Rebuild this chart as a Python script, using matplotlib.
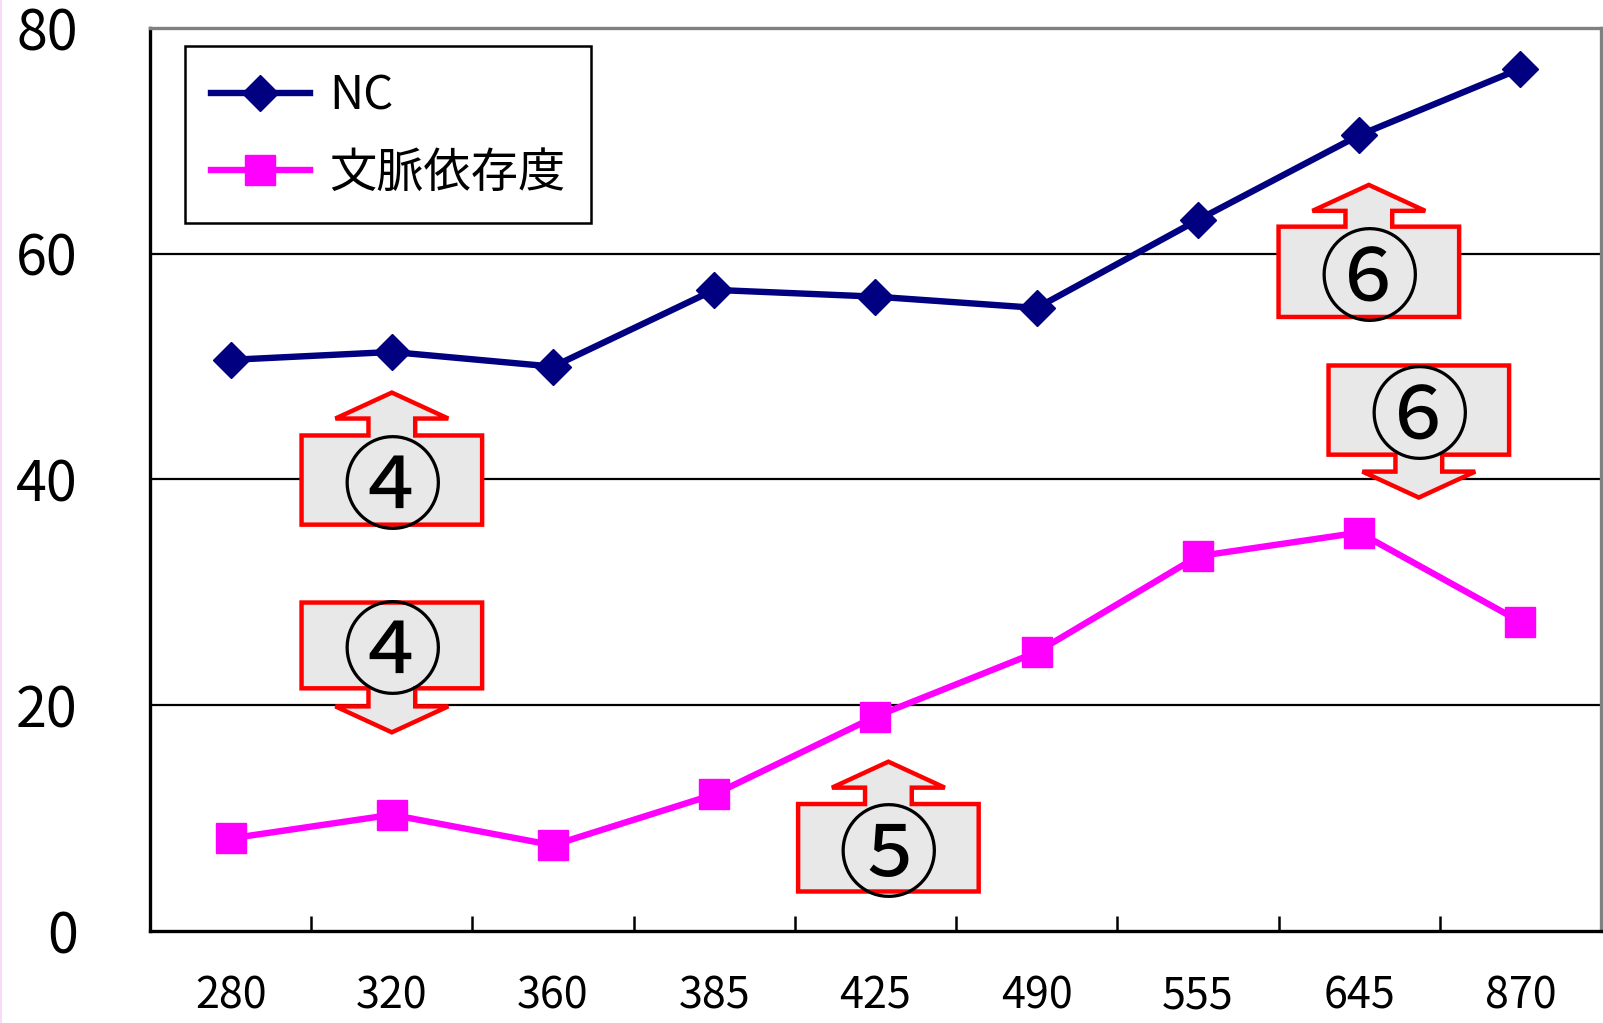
import matplotlib
matplotlib.use('Agg')
import matplotlib.pyplot as plt
from matplotlib.patches import Polygon
from matplotlib.lines import Line2D

plt.rcParams['font.family'] = ['Noto Sans CJK JP', 'DejaVu Sans']

categories = ['280', '320', '360', '385', '425', '490', '555', '645', '870']
nc_values = [50.6, 51.3, 50.0, 56.8, 56.2, 55.2, 63.0, 70.5, 76.4]
context_values = [8.2, 10.3, 7.6, 12.1, 19.0, 24.7, 33.2, 35.3, 27.4]
series_labels = ['NC', '文脈依存度']


def callout(ax, xc, ylo, yhi, tip, label):
    """Box with a block arrow on top (tip > yhi) or below (tip < ylo)."""
    hw, sh, hh, hl = 0.56, 0.145, 0.35, 2.3
    if tip > yhi:
        base, hb = yhi, tip - hl
        pts = [(xc - hw, ylo), (xc + hw, ylo), (xc + hw, base), (xc + sh, base),
               (xc + sh, hb), (xc + hh, hb), (xc, tip), (xc - hh, hb),
               (xc - sh, hb), (xc - sh, base), (xc - hw, base)]
    else:
        base, hb = ylo, tip + hl
        pts = [(xc - hw, yhi), (xc + hw, yhi), (xc + hw, base), (xc + sh, base),
               (xc + sh, hb), (xc + hh, hb), (xc, tip), (xc - hh, hb),
               (xc - sh, hb), (xc - sh, base), (xc - hw, base)]
    ax.add_patch(Polygon(pts, closed=True, facecolor='#e8e8e8', edgecolor='#ff0000',
                         linewidth=3.2, joinstyle='miter', zorder=5))
    ax.text(xc, (ylo + yhi) / 2, label, ha='center', va='center_baseline',
            fontsize=73, color='black', zorder=6)


fig = plt.figure(figsize=(16.03, 10.23), dpi=100)
ax = fig.add_axes([150 / 1603, 1 - 931 / 1023, 1451 / 1603, 903 / 1023])

x = list(range(len(categories)))
ax.plot(x, nc_values, color='#000080', linewidth=4.6, marker='D', markersize=18,
        label=series_labels[0], zorder=4)
ax.plot(x, context_values, color='#ff00ff', linewidth=4.6, marker='s', markersize=21,
        label=series_labels[1], zorder=4)

ax.set_xlim(-0.5, len(categories) - 0.5)
ax.set_ylim(0, 80)
ax.set_yticks([0, 20, 40, 60, 80])
ax.set_xticks(x)
ax.set_xticklabels(categories)
ax.set_xticks([i + 0.5 for i in range(len(categories) - 1)], minor=True)
ax.tick_params(axis='y', length=0, pad=52, labelsize=40)
ax.tick_params(axis='x', which='major', length=0, pad=31, labelsize=31)
ax.tick_params(axis='x', which='minor', direction='in', length=11, width=1.8)
for yy in (20, 40, 60):
    ax.axhline(yy, color='black', linewidth=1.6, zorder=1)

for side in ('left', 'bottom'):
    ax.spines[side].set_color('black')
    ax.spines[side].set_linewidth(2.4)
for side in ('top', 'right'):
    ax.spines[side].set_color('#808080')
    ax.spines[side].set_linewidth(2.4)

callout(ax, 1.0, 36.0, 43.9, 47.7, '④')
callout(ax, 1.0, 21.5, 29.1, 17.6, '④')
callout(ax, 4.08, 3.5, 11.25, 15.0, '⑤')
callout(ax, 7.06, 54.4, 62.4, 66.1, '⑥')
callout(ax, 7.37, 42.2, 50.1, 38.4, '⑥')

leg = ax.legend(loc='upper left', bbox_to_anchor=(0.024, 0.98), borderaxespad=0,
                fontsize=34, handlelength=2.1, handletextpad=0.4, fancybox=False,
                framealpha=1, edgecolor='black', borderpad=0.55, labelspacing=0.6)
leg.get_frame().set_linewidth(1.8)

fig.add_artist(Line2D([0.0006, 0.0006], [0, 1], color='#f6d6f6', linewidth=1.2))

fig.savefig('out.png', dpi=100)
plt.close(fig)
